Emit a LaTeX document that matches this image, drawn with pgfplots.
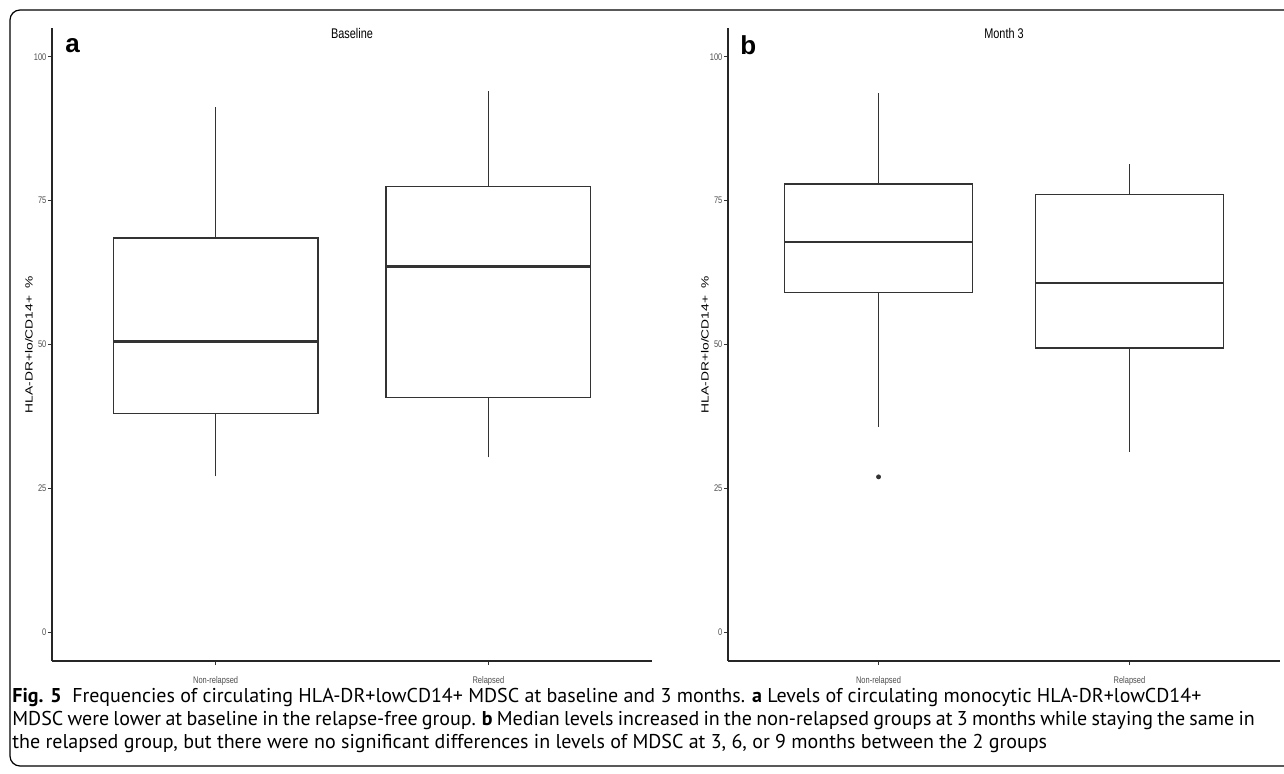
\documentclass[border=0pt]{standalone}
\usepackage{fontspec}
\usepackage{pgfplots}
\pgfplotsset{compat=1.18}
\setmainfont{Liberation Sans}
\newfontfamily\ggfont[FakeStretch=0.78]{Liberation Sans}
\newfontfamily\capfont{PT Sans}
\definecolor{gg30}{HTML}{4D4D4D}
\definecolor{gg20}{HTML}{333333}
\pgfplotsset{
  ggbox/.style={
    scale only axis, height=316.5pt, anchor=south west,
    axis lines*=left,
    axis line style={line width=0.6pt, black!85},
    xmin=0.4, xmax=2.6, ymin=-5, ymax=105,
    xtick={1,2}, xticklabels={Non-relapsed,Relapsed},
    ytick={0,25,50,75,100},
    tick align=outside, major tick length=2pt,
    tick style={line width=0.5pt, gg20},
    tick label style={font=\ggfont\fontsize{4.8}{5}\selectfont, text=gg30},
    /pgf/number format/assume math mode=true,
    yticklabel style={inner sep=0.6pt},
    xticklabel style={inner sep=1pt, yshift=-4.5pt},
    ylabel={\scalebox{1.06}[0.8]{\fontsize{6.5}{7}\selectfont HLA-DR+lo/CD14+~~\%}},
    every axis y label/.style={at={(axis description cs:0,0.5)}, xshift=-11.5pt, rotate=90, anchor=center},
    clip=false,
  },
  boxln/.style={draw=gg20, line width=0.6pt, no marks, line join=miter},
  medln/.style={draw=gg20, line width=1.3pt, no marks},
  outl/.style={only marks, mark=*, mark size=1pt, mark options={fill=gg20, draw=gg20}},
}
\begin{document}
\begin{tikzpicture}
\path[use as bounding box] (0,0) rectangle (642pt,-387pt);
% panel a: Baseline
% Non-relapsed: whiskers 27.1 / 91.2, box 38.0 - 68.5, median 50.5
% Relapsed:     whiskers 30.4 / 94.0, box 40.8 - 77.4, median 63.6
\begin{axis}[ggbox, at={(26pt,-330.5pt)}, width=300pt]
\addplot[boxln] coordinates {(1,68.5) (1,91.2)};
\addplot[boxln] coordinates {(1,27.1) (1,38.0)};
\addplot[boxln] coordinates {(0.625,38.0) (1.375,38.0) (1.375,68.5) (0.625,68.5)} -- cycle;
\addplot[medln] coordinates {(0.625,50.5) (1.375,50.5)};
\addplot[boxln] coordinates {(2,77.4) (2,94.0)};
\addplot[boxln] coordinates {(2,30.4) (2,40.8)};
\addplot[boxln] coordinates {(1.625,40.8) (2.375,40.8) (2.375,77.4) (1.625,77.4)} -- cycle;
\addplot[medln] coordinates {(1.625,63.6) (2.375,63.6)};
\end{axis}
% panel b: Month 3
% Non-relapsed: whiskers 35.7 / 93.7, box 59.0 - 77.9, median 67.8, outlier 27.0
% Relapsed:     whiskers 31.4 / 81.3, box 49.4 - 76.1, median 60.7
\begin{axis}[ggbox, at={(364pt,-330.5pt)}, width=276pt]
\addplot[boxln] coordinates {(1,77.9) (1,93.7)};
\addplot[boxln] coordinates {(1,35.7) (1,59.0)};
\addplot[boxln] coordinates {(0.625,59.0) (1.375,59.0) (1.375,77.9) (0.625,77.9)} -- cycle;
\addplot[medln] coordinates {(0.625,67.8) (1.375,67.8)};
\addplot[outl] coordinates {(1,27.0)};
\addplot[boxln] coordinates {(2,76.1) (2,81.3)};
\addplot[boxln] coordinates {(2,31.4) (2,49.4)};
\addplot[boxln] coordinates {(1.625,49.4) (2.375,49.4) (2.375,76.1) (1.625,76.1)} -- cycle;
\addplot[medln] coordinates {(1.625,60.7) (2.375,60.7)};
\end{axis}
% titles and panel letters
\node[anchor=base, font=\ggfont\fontsize{7}{8}\selectfont] at (176pt,-19.5pt) {Baseline};
\node[anchor=base, font=\ggfont\fontsize{7}{8}\selectfont] at (502pt,-19.5pt) {Month 3};
\node[anchor=base west, inner sep=0pt, font=\bfseries\fontsize{13}{14}\selectfont] at (32.5pt,-26.5pt) {a};
\node[anchor=base west, inner sep=0pt, font=\bfseries\fontsize{13}{14}\selectfont] at (370pt,-27.5pt) {b};
% caption
\begin{scope}[every node/.style={anchor=base west, inner sep=0pt, font=\capfont\fontsize{10}{12}\selectfont}]
\node at (6pt,-351pt) {\textbf{Fig. 5}\ \ Frequencies of circulating HLA-DR+lowCD14+ MDSC at baseline and 3 months. \textbf{a} Levels of circulating monocytic HLA-DR+lowCD14+};
\node at (6pt,-362.5pt) {\spaceskip=0.8\fontdimen2\font plus 0pt minus 0pt MDSC were lower at baseline in the relapse-free group. \textbf{b} Median levels increased in the non-relapsed groups at 3 months while staying the same in};
\node at (6pt,-374pt) {the relapsed group, but there were no significant differences in levels of MDSC at 3, 6, or 9 months between the 2 groups};
\end{scope}
% frame
\draw[line width=0.6pt, rounded corners=5pt] (650pt,-5pt) -- (5pt,-5pt) -- (5pt,-383pt) -- (650pt,-383pt);
\end{tikzpicture}
\end{document}
